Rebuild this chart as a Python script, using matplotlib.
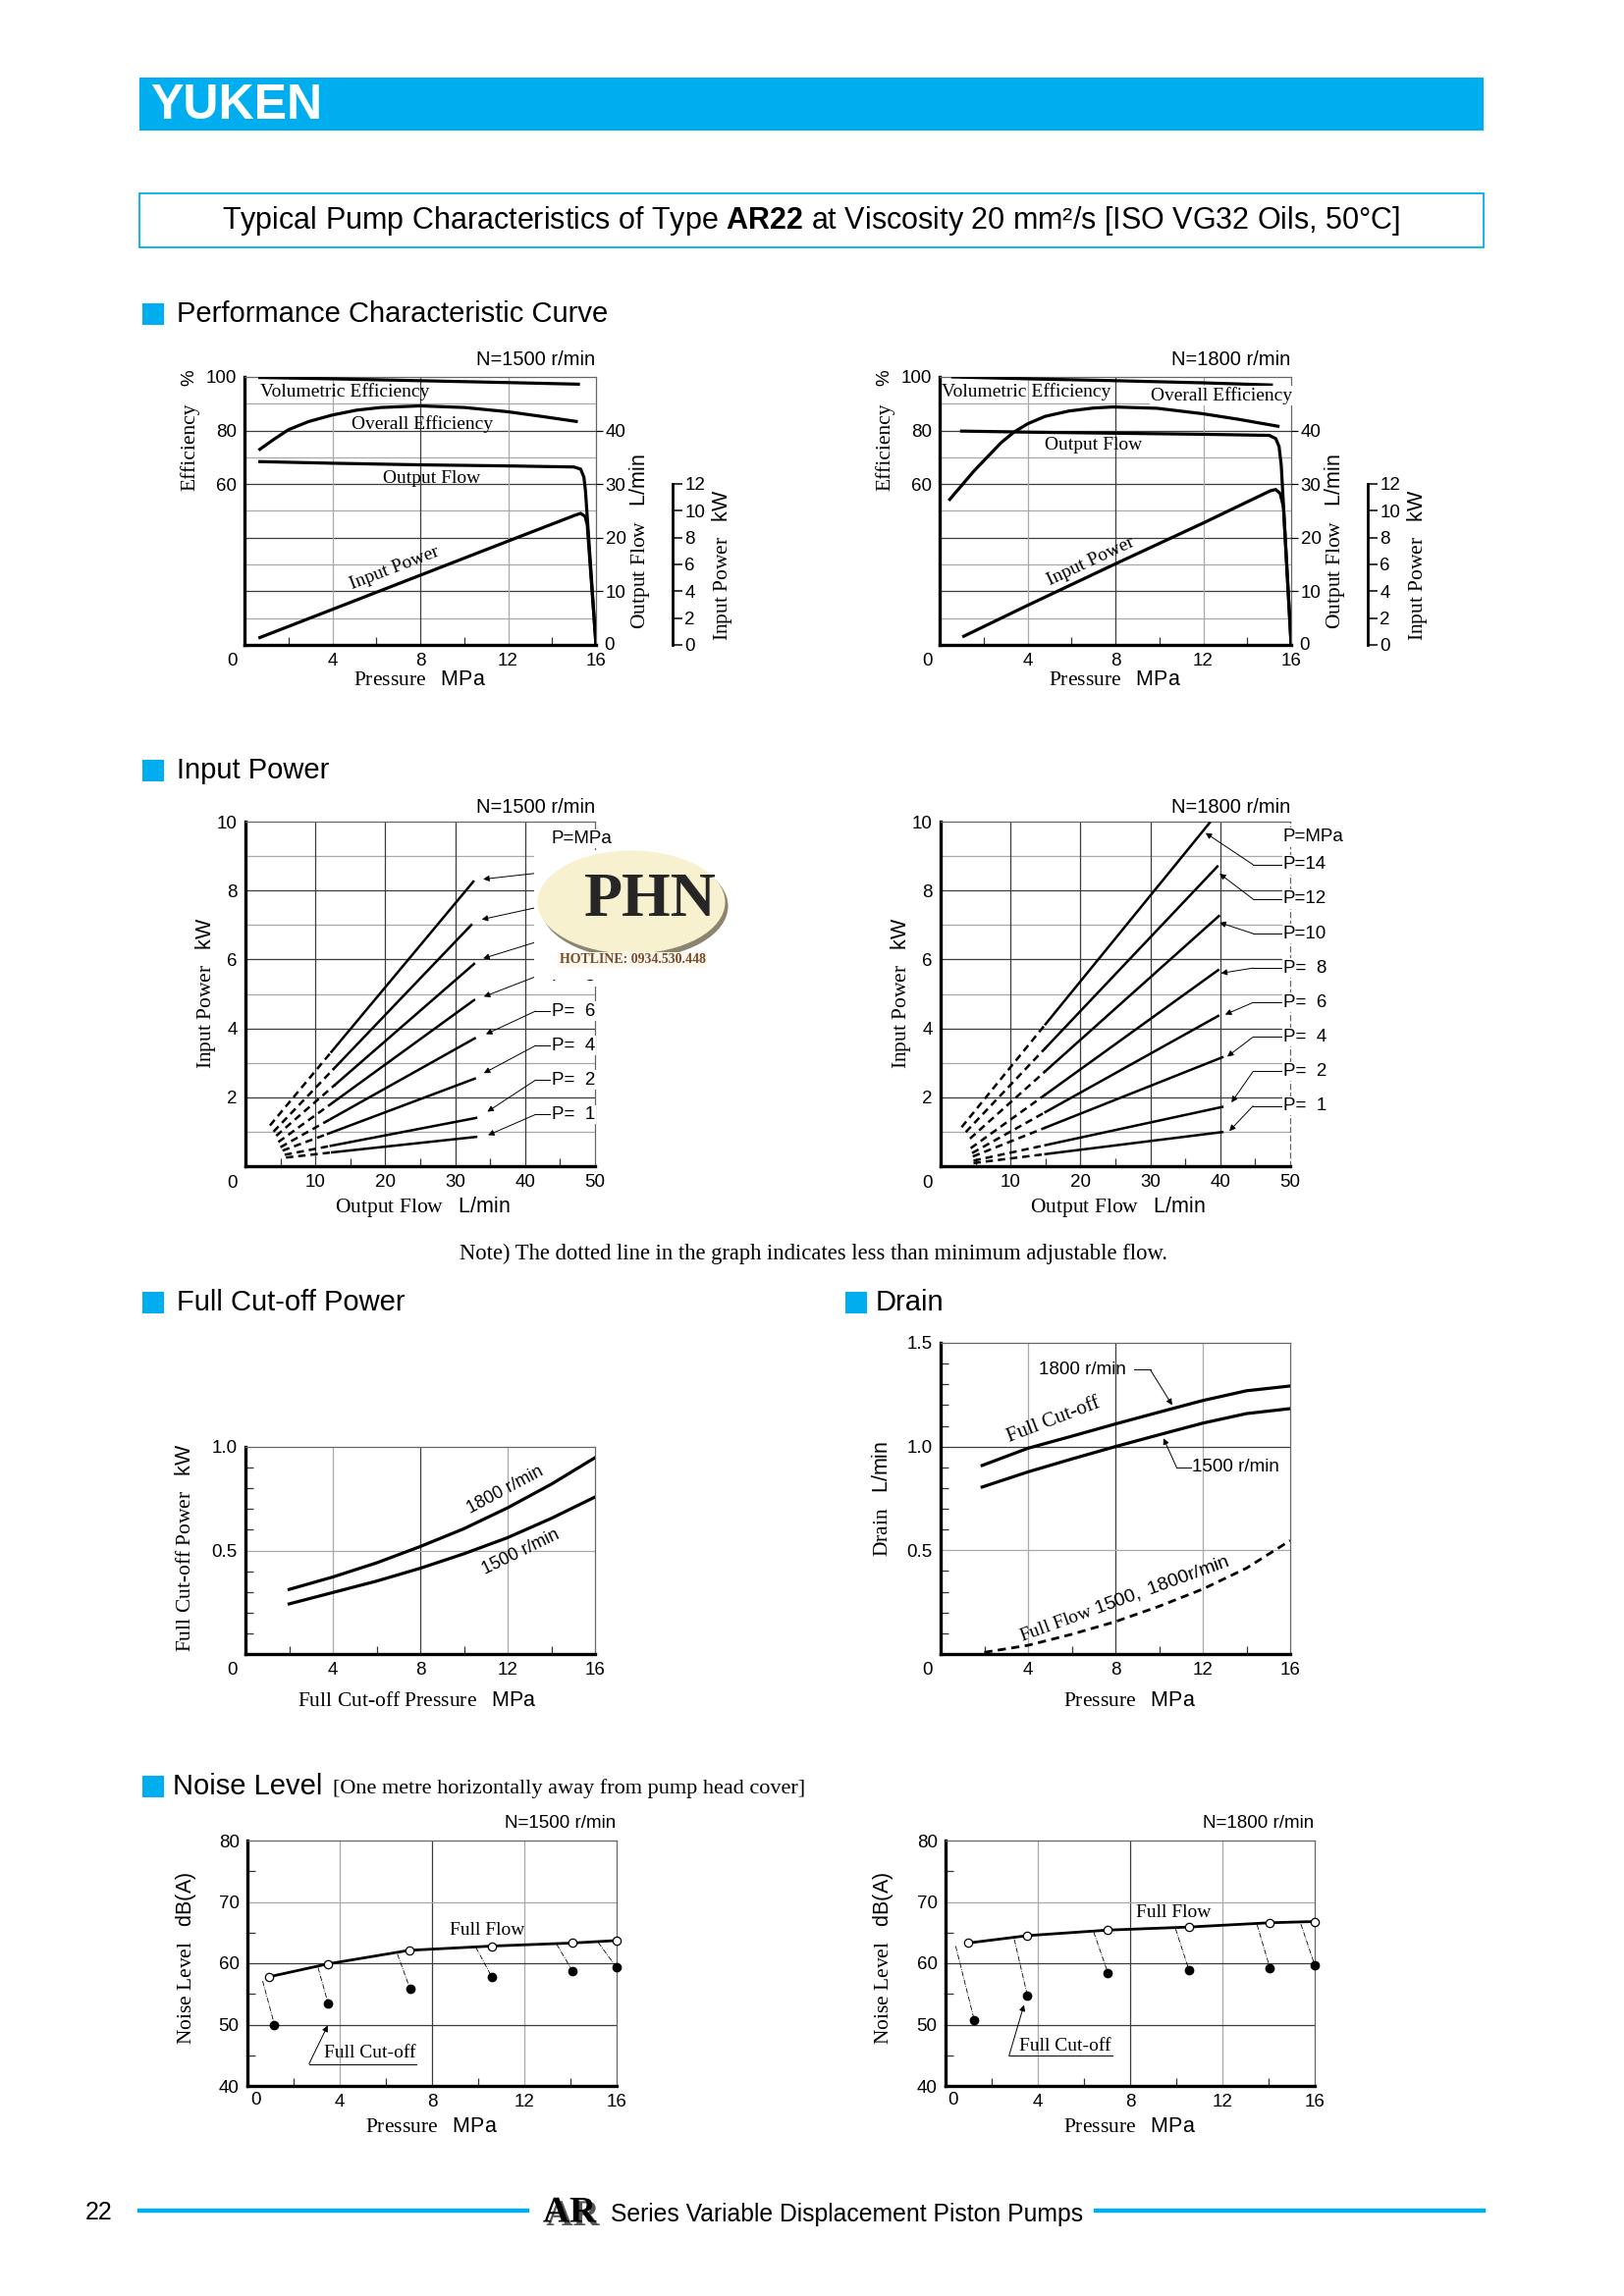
import matplotlib
matplotlib.use("Agg")
import matplotlib.pyplot as plt
import matplotlib.patheffects as pe
from matplotlib import font_manager
from matplotlib.lines import Line2D
from matplotlib.patches import Rectangle, Ellipse

W, H = 1654, 2339
BLUE = '#00AEEF'
DARK = '#3c3c3c'
LIGHT = '#a8a8a8'

installed = {f.name for f in font_manager.fontManager.ttflist}
SANS = 'Liberation Sans'
NARROW = 'Liberation Sans Narrow' if 'Liberation Sans Narrow' in installed else SANS
SERIF = 'Liberation Serif'

plt.rcParams['font.family'] = SANS
plt.rcParams['mathtext.fontset'] = 'custom'
plt.rcParams['mathtext.rm'] = SANS
plt.rcParams['mathtext.bf'] = SANS + ':bold'
plt.rcParams['mathtext.it'] = SANS + ':italic'

# ---------------- data ----------------
# Performance characteristic, N=1500 r/min (x: pressure MPa)
p15_vol_p = [0.7, 4, 8, 12, 15.2]
p15_vol = [99.8, 99.3, 98.6, 97.9, 97.3]
p15_ovr_p = [0.7, 1.3, 2.0, 2.9, 4.0, 5.1, 6.2, 8.0, 10.0, 12.0, 13.5, 15.1]
p15_ovr = [73.0, 76.5, 80.3, 83.3, 85.8, 87.6, 88.6, 89.2, 88.6, 87.0, 85.3, 83.4]
p15_flow_p = [0.7, 4, 8, 12, 15.0, 15.3, 15.45, 15.52, 16.0]
p15_flow = [34.2, 33.9, 33.6, 33.4, 33.2, 32.8, 31.3, 28.8, 0.0]      # L/min
p15_pow_p = [0.7, 4, 8, 12, 15.0, 15.3, 15.5, 15.6, 16.0]
p15_pow = [0.55, 2.65, 5.2, 7.75, 9.65, 9.82, 9.6, 9.0, 0.0]          # kW

# Performance characteristic, N=1800 r/min
p18_vol_p = [0.6, 4, 8, 12, 15.1]
p18_vol = [100.0, 99.3, 98.6, 97.8, 97.0]
p18_ovr_p = [0.46, 1.0, 1.55, 2.1, 2.8, 3.4, 4.0, 4.8, 5.9, 7.0, 7.9, 9.9, 11.95, 13.6, 15.4]
p18_ovr = [54.3, 59.5, 64.8, 69.5, 75.5, 79.5, 82.5, 85.3, 87.3, 88.4, 88.8, 88.3, 86.3, 84.2, 81.6]
p18_flow_p = [1.0, 4, 8, 12, 15.0, 15.3, 15.45, 15.55, 16.0]
p18_flow = [39.9, 39.7, 39.5, 39.3, 39.1, 38.5, 37.0, 33.5, 0.0]
p18_pow_p = [1.1, 4, 8, 12, 15.05, 15.3, 15.5, 15.65, 16.0]
p18_pow = [0.65, 2.95, 6.05, 9.1, 11.5, 11.6, 11.3, 10.3, 0.0]

# Input power vs output flow, one line per pressure
press = [14, 12, 10, 8, 6, 4, 2, 1]
ip15_q_start = [3.5, 4.0, 4.4, 4.7, 5.0, 5.3, 5.6, 5.8]
ip15_kw_start = [1.18, 1.00, 0.88, 0.70, 0.55, 0.45, 0.33, 0.25]
ip15_q_min = [12.3, 12.6, 12.8, 12.6, 12.2, 11.8, 12.2, 12.4]
ip15_kw_min = [3.32, 2.82, 2.36, 1.86, 1.37, 0.94, 0.59, 0.40]
ip15_q_end = [32.6, 32.3, 32.7, 32.7, 32.8, 32.8, 33.0, 33.0]
ip15_kw_end = [8.26, 7.00, 5.87, 4.82, 3.71, 2.54, 1.40, 0.85]
ip15_lab_kw = [8.5, 7.5, 6.5, 5.5, 4.5, 3.5, 2.5, 1.5]
ip15_tip_q = [34.0, 33.8, 34.0, 34.1, 34.4, 34.1, 34.6, 34.7]
ip15_tip_kw = [8.33, 7.16, 6.03, 4.92, 3.83, 2.70, 1.58, 0.90]

ip18_q_start = [3.0, 3.6, 4.2, 4.3, 4.5, 4.6, 4.7, 4.7]
ip18_kw_start = [1.13, 0.99, 0.80, 0.52, 0.38, 0.28, 0.16, 0.09]
ip18_q_min = [15.0, 15.0, 15.0, 15.0, 15.0, 15.0, 15.0, 15.0]
ip18_kw_min = [4.12, 3.43, 2.76, 2.08, 1.57, 1.12, 0.61, 0.35]
ip18_q_end = [38.5, 39.6, 39.8, 39.7, 39.7, 40.3, 40.3, 40.3]
ip18_kw_end = [9.97, 8.70, 7.26, 5.69, 4.36, 3.16, 1.72, 0.99]
ip18_lab_kw = [8.75, 7.75, 6.75, 5.75, 4.75, 3.75, 2.75, 1.75]
ip18_tip_q = [37.9, 39.9, 39.9, 40.1, 40.7, 41.0, 41.6, 41.3]
ip18_tip_kw = [9.67, 8.49, 7.07, 5.60, 4.40, 3.18, 1.85, 1.02]

# Full cut-off power (kW) vs full cut-off pressure
co_p = [2.0, 4, 6, 8, 10, 12, 14, 16]
co_1800 = [0.312, 0.372, 0.44, 0.519, 0.605, 0.706, 0.82, 0.948]
co_1500 = [0.242, 0.297, 0.352, 0.414, 0.484, 0.562, 0.655, 0.758]

# Drain (L/min) vs pressure
dr_p = [1.9, 4, 6, 8, 10, 12, 14, 16]
dr_1800 = [0.909, 0.992, 1.05, 1.109, 1.166, 1.222, 1.269, 1.292]
dr_1500 = [0.805, 0.878, 0.94, 1.0, 1.057, 1.113, 1.159, 1.183]
dr_ff_p = [2.0, 4, 6, 8, 10, 12, 14, 16]
dr_ff = [0.008, 0.042, 0.095, 0.156, 0.23, 0.313, 0.414, 0.547]

# Noise level dB(A)
n15_ff_p = [0.95, 3.5, 7.0, 10.6, 14.1, 16.0]
n15_ff = [57.8, 59.9, 62.1, 62.8, 63.3, 63.7]
n15_co_p = [1.17, 3.5, 7.05, 10.6, 14.1, 16.0]
n15_co = [50.0, 53.4, 55.8, 57.7, 58.65, 59.3]
n15_lead_p = [0.66, 3.06, 6.5, 9.9, 13.4, 15.2]
n15_lead = [57.1, 59.3, 61.5, 62.6, 63.1, 63.4]

n18_ff_p = [0.99, 3.55, 7.02, 10.55, 14.06, 16.0]
n18_ff = [63.3, 64.5, 65.4, 65.9, 66.6, 66.8]
n18_co_p = [1.24, 3.55, 7.04, 10.55, 14.06, 16.0]
n18_co = [50.8, 54.7, 58.4, 58.9, 59.2, 59.7]
n18_lead_p = [0.44, 2.98, 6.42, 9.97, 13.5, 15.4]
n18_lead = [62.8, 63.9, 65.1, 65.6, 66.3, 66.4]

# ---------------- helpers ----------------
fig = plt.figure(figsize=(W / 100, H / 100), dpi=100)


def rect(x0, y0, x1, y1):
    return [x0 / W, 1 - y1 / H, (x1 - x0) / W, (y1 - y0) / H]


def ftext(x, y, s, **kw):
    kw.setdefault('ha', 'center')
    kw.setdefault('va', 'center')
    return fig.text(x / W, 1 - y / H, s, **kw)


def unit_label(x, y, words, unit, rot=0, size=15.5):
    # serif words + sans unit, as on the sheet
    return ftext(x, y, words + '   ' + r'$\mathrm{' + unit + '}$',
                 family=SERIF, fontsize=size, rotation=rot)


def section(x_sq, y, title, x_txt=None, sub=None):
    fig.add_artist(Rectangle((x_sq / W, 1 - (y + 11) / H), 22 / W, 22 / H,
                             transform=fig.transFigure, color=BLUE, lw=0))
    x_txt = x_sq + 35 if x_txt is None else x_txt
    t = ftext(x_txt, y, title, ha='left', fontsize=21)
    if sub:
        ftext(339, y + 2, sub, ha='left', family=SERIF, fontsize=16)
    return t


def style(ax, xlim, ylim):
    ax.set_xlim(*xlim)
    ax.set_ylim(*ylim)
    for s in ['left', 'bottom']:
        ax.spines[s].set_linewidth(2.4)
        ax.spines[s].set_color('k')
    for s in ['top', 'right']:
        ax.spines[s].set_linewidth(0.9)
        ax.spines[s].set_color('#666666')
    ax.tick_params(which='major', length=0, labelsize=13.5, pad=6)
    ax.tick_params(which='minor', direction='in', length=6, width=0.9, color='#333333')
    ax.patch.set_alpha(0)


def grid_h(ax, vals, dark_vals):
    lo, hi = ax.get_xlim()
    for v in vals:
        ax.plot([lo, hi], [v, v], color=DARK if v in dark_vals else LIGHT, lw=0.9, zorder=0.5)


def grid_v(ax, vals, dark_vals):
    for v in vals:
        ax.axvline(v, color=DARK if v in dark_vals else LIGHT, lw=0.9, zorder=0.5)


def arrow(ax, tip, start):
    ax.annotate('', xy=tip, xytext=start,
                arrowprops=dict(arrowstyle='-|>', color='k', lw=0.7, mutation_scale=9,
                                shrinkA=0, shrinkB=0), zorder=3)


# ---------------- header ----------------
fig.add_artist(Rectangle((142 / W, 1 - 133 / H), 1369 / W, 54 / H,
                         transform=fig.transFigure, color=BLUE, lw=0))
ftext(153, 108, 'YUKEN', ha='left', color='white', fontsize=36,
      fontweight='bold', family=NARROW)
fig.add_artist(Rectangle((142 / W, 1 - 252 / H), 1369 / W, 55 / H, fill=False,
                         transform=fig.transFigure, edgecolor=BLUE, lw=1.3))
ftext(826, 225, r'Typical Pump Characteristics of Type $\mathbf{AR22}$ at Viscosity 20 mm²/s [ISO VG32 Oils, 50°C]',
      fontsize=22)

# ---------------- performance characteristic curve ----------------
section(145, 320, 'Performance Characteristic Curve')


def perf_chart(x0, speed, vol_p, vol, ovr_p, ovr, flow_p, flow, pow_p, pw, txt, grid90_end):
    ax = fig.add_axes(rect(x0, 384, x0 + 358, 657))
    style(ax, (0, 16), (0, 100))
    for v in range(10, 100, 10):
        ax.plot([0, grid90_end if v == 90 else 16], [v, v],
                color=DARK if v % 20 == 0 else LIGHT, lw=0.9, zorder=0.5)
    grid_v(ax, [4, 8, 12], [8])
    ax.set_xticks([4, 8, 12, 16])
    ax.set_xticks([2, 6, 10, 14], minor=True)
    ax.set_yticks([60, 80, 100])
    ax.plot(vol_p, vol, color='k', lw=2.3, zorder=3)
    ax.plot(ovr_p, ovr, color='k', lw=2.3, zorder=3)

    axf = ax.twinx()
    axf.set_ylim(0, 50)
    axf.plot(flow_p, flow, color='k', lw=2.3, zorder=3)
    axf.set_yticks([10, 20, 30, 40])
    axf.tick_params(axis='y', direction='out', length=5, width=0.9, labelsize=13.5, pad=2)
    for s in axf.spines.values():
        s.set_visible(False)

    axp = ax.twinx()
    axp.set_ylim(0, 20)
    axp.axis('off')
    axp.plot(pow_p, pw, color='k', lw=2.3, zorder=3)

    axs = fig.add_axes(rect(x0 + 435, 493, x0 + 436, 657))
    axs.set_ylim(0, 12)
    axs.set_xticks([])
    axs.yaxis.tick_right()
    axs.set_yticks(range(0, 13, 2))
    for s in ['left', 'top', 'bottom']:
        axs.spines[s].set_visible(False)
    axs.spines['right'].set_linewidth(2.0)
    axs.tick_params(axis='y', direction='out', length=7, width=1.1, labelsize=13.5, pad=2)
    axs.patch.set_alpha(0)

    (vx, vy), (ox, oy, oha), (fx, fy), (ix, iy, irot) = txt
    ax.text(vx, vy, 'Volumetric Efficiency', family=SERIF, fontsize=14, ha='left', va='center')
    ax.text(ox, oy, 'Overall Efficiency', family=SERIF, fontsize=14, ha=oha, va='baseline',
            bbox=dict(fc='white', ec='none', pad=0.5) if oha == 'left' else None)
    ax.text(fx, fy, 'Output Flow', family=SERIF, fontsize=14, ha='center', va='baseline')
    ax.text(ix, iy, 'Input Power', family=SERIF, fontsize=14, ha='center', va='center',
            rotation=irot, rotation_mode='anchor')

    ftext(x0 + 357, 366, f'N={speed} r/min', ha='right', fontsize=14.5)
    ftext(x0 - 13, 674, '0', fontsize=13.5)
    ftext(x0 + 372, 658, '0', fontsize=13.5)
    ftext(x0 - 56, 385, r'$\%$', rotation=90, fontsize=13.5)
    ftext(x0 - 56, 455, 'Efficiency', family=SERIF, fontsize=15.5, rotation=90)
    unit_label(x0 + 179, 694, 'Pressure', 'MPa')
    unit_label(x0 + 403, 552, 'Output Flow', 'L/min', rot=90)
    unit_label(x0 + 486, 576, 'Input Power', 'kW', rot=90)


perf_chart(249, '1500', p15_vol_p, p15_vol, p15_ovr_p, p15_ovr, p15_flow_p, p15_flow,
           p15_pow_p, p15_pow,
           [(0.7, 94.5), (8.1, 80.6, 'center'), (8.5, 60.6), (6.85, 28.5, 21)], 16)
perf_chart(957, '1800', p18_vol_p, p18_vol, p18_ovr_p, p18_ovr, p18_flow_p, p18_flow,
           p18_pow_p, p18_pow,
           [(0.1, 94.3), (9.6, 91.2, 'left'), (7.0, 73.0), (6.9, 31.0, 25)], 9.6)

# ---------------- input power ----------------
section(145, 785, 'Input Power')


def input_chart(x0, speed, q_s, k_s, q_m, k_m, q_e, k_e, lab_q, lab_kw, mpa_kw,
                elbow_q, tip_q, tip_kw, dashed_edge, covered=()):
    ax = fig.add_axes(rect(x0, 837, x0 + 356, 1188))
    style(ax, (0, 50), (0, 10))
    if dashed_edge:
        ax.spines['right'].set_linestyle((0, (4, 3)))
    grid_h(ax, range(1, 10), [2, 4, 6, 8])
    grid_v(ax, [10, 20, 30, 40], [10, 20, 30, 40])
    ax.set_xticks([10, 20, 30, 40, 50])
    ax.set_xticks([5, 15, 25, 35, 45], minor=True)
    ax.set_yticks([2, 4, 6, 8, 10])
    for i, p in enumerate(press):
        ax.plot([q_s[i], q_m[i]], [k_s[i], k_m[i]], color='k', lw=1.8,
                ls=(0, (3, 2)), zorder=3)
        ax.plot([q_m[i], q_e[i]], [k_m[i], k_e[i]], color='k', lw=1.8, zorder=3)
        if p not in covered:   # labels lying under the watermark are not visible on the sheet
            ax.text(lab_q, lab_kw[i], f'P={p:2d}'.replace(' ', '  '), fontsize=13.5,
                    ha='left', va='center', bbox=dict(fc='white', ec='none', pad=1), zorder=4)
        ax.plot([lab_q - 0.1, elbow_q], [lab_kw[i]] * 2, color='k', lw=0.7, zorder=3)
        arrow(ax, (tip_q[i], tip_kw[i]), (elbow_q, lab_kw[i]))
    ax.text(lab_q, mpa_kw, 'P=MPa', fontsize=13.5, ha='left', va='center',
            bbox=dict(fc='white', ec='none', pad=1), zorder=4)
    ftext(x0 + 356, 822, f'N={speed} r/min', ha='right', fontsize=14.5)
    ftext(x0 - 14, 1205, '0', fontsize=13.5)
    unit_label(x0 - 41, 1012, 'Input Power', 'kW', rot=90)
    unit_label(x0 + 180, 1229, 'Output Flow', 'L/min')


input_chart(250, '1500', ip15_q_start, ip15_kw_start, ip15_q_min, ip15_kw_min,
            ip15_q_end, ip15_kw_end, 43.8, ip15_lab_kw, 9.5, 41.5,
            ip15_tip_q, ip15_tip_kw, False, covered=(14, 12, 10))
input_chart(958, '1800', ip18_q_start, ip18_kw_start, ip18_q_min, ip18_kw_min,
            ip18_q_end, ip18_kw_end, 49.0, ip18_lab_kw, 9.55, 44.7,
            ip18_tip_q, ip18_tip_kw, True)

ftext(828, 1277, 'Note) The dotted line in the graph indicates less than minimum adjustable flow.',
      family=SERIF, fontsize=16.3)

# watermark over the 1500 r/min labels
fig.add_artist(Rectangle((544 / W, 1 - 998 / H), 201 / W, 132 / H,
                         transform=fig.transFigure, color='white', lw=0, zorder=5))
fig.add_artist(Ellipse((646 / W, 1 - 923 / H), 191 / W, 107 / H,
                       transform=fig.transFigure, color='#8d8470', lw=0, zorder=6))
fig.add_artist(Ellipse((643 / W, 1 - 919 / H), 191 / W, 105 / H,
                       transform=fig.transFigure, color='#f8f1cf', lw=0, zorder=6))
ftext(662, 918, 'PHN', family=SERIF, fontweight='bold', fontsize=46, color='#262626', zorder=7)
ftext(644, 978, 'HOTLINE: 0934.530.448', family=SERIF, fontweight='bold', fontsize=10,
      color='#7a4a2a', zorder=7, bbox=dict(fc='#fbf8ee', ec='none', pad=1))

# ---------------- full cut-off power ----------------
section(145, 1327, 'Full Cut-off Power')
ax = fig.add_axes(rect(250, 1474, 606, 1685))
style(ax, (0, 16), (0, 1.0))
grid_v(ax, [4, 8, 12], [8])
grid_h(ax, [0.5], [])
ax.set_xticks([4, 8, 12, 16])
ax.set_xticks([2, 6, 10, 14], minor=True)
ax.set_yticks([0.5, 1.0])
ax.set_yticklabels(['0.5', '1.0'])
ax.set_yticks([0.1, 0.2, 0.3, 0.4, 0.6, 0.7, 0.8, 0.9], minor=True)
ax.plot(co_p, co_1800, color='k', lw=2.3, zorder=3)
ax.plot(co_p, co_1500, color='k', lw=2.3, zorder=3)
ax.text(11.9, 0.79, '1800 r/min', fontsize=13, rotation=28, rotation_mode='anchor',
        ha='center', va='center')
ax.text(12.6, 0.49, '1500 r/min', fontsize=13, rotation=26, rotation_mode='anchor',
        ha='center', va='center')
ftext(236, 1702, '0', fontsize=13.5)
unit_label(189, 1577, 'Full Cut-off Power', 'kW', rot=90)
unit_label(425, 1733, 'Full Cut-off Pressure', 'MPa')

# ---------------- drain ----------------
section(861, 1327, 'Drain', x_txt=892)
ax = fig.add_axes(rect(958, 1368, 1314, 1685))
style(ax, (0, 16), (0, 1.5))
grid_v(ax, [4, 8, 12], [8])
grid_h(ax, [0.5, 1.0], [1.0])
ax.set_xticks([4, 8, 12, 16])
ax.set_xticks([2, 6, 10, 14], minor=True)
ax.set_yticks([0.5, 1.0, 1.5])
ax.set_yticks([0.1, 0.2, 0.3, 0.4, 0.6, 0.7, 0.8, 0.9, 1.1, 1.2, 1.3, 1.4], minor=True)
ax.plot(dr_p, dr_1800, color='k', lw=2.3, zorder=3)
ax.plot(dr_p, dr_1500, color='k', lw=2.3, zorder=3)
ax.plot(dr_ff_p, dr_ff, color='k', lw=2.0, ls=(0, (3, 2)), zorder=3)
ax.text(5.15, 1.125, 'Full Cut-off', family=SERIF, fontsize=15, rotation=21,
        rotation_mode='anchor', ha='center', va='center')
ax.text(8.4, 0.27, r'Full Flow $\mathrm{1500,\ 1800r/min}$', family=SERIF, fontsize=14,
        rotation=20, rotation_mode='anchor', ha='center', va='center')
ax.text(4.5, 1.37, '1800 r/min', fontsize=13.5, ha='left', va='center')
ax.plot([8.85, 9.6], [1.37, 1.37], color='k', lw=0.7)
arrow(ax, (10.6, 1.20), (9.6, 1.37))
ax.text(11.5, 0.90, '1500 r/min', fontsize=13.5, ha='left', va='center')
ax.plot([11.45, 10.8], [0.90, 0.90], color='k', lw=0.7)
arrow(ax, (10.2, 1.04), (10.8, 0.90))
ftext(944, 1702, '0', fontsize=13.5)
unit_label(899, 1527, 'Drain', 'L/min', rot=90)
unit_label(1151, 1733, 'Pressure', 'MPa')

# ---------------- noise level ----------------
section(145, 1820, 'Noise Level', x_txt=176,
        sub='[One metre horizontally away from pump head cover]')


def noise_chart(x0, speed, ff_p, ff, co_p_, co, lead_p, lead, ffl, cut_txt, cut_line, cut_tip):
    ax = fig.add_axes(rect(x0, 1875, x0 + 376, 2125))
    style(ax, (0, 16), (40, 80))
    grid_v(ax, [4, 8, 12], [8])
    grid_h(ax, [50, 60, 70], [50, 60])
    ax.set_xticks([4, 8, 12, 16])
    ax.set_xticks([2, 6, 10, 14], minor=True)
    ax.set_yticks([40, 50, 60, 70, 80])
    ax.set_yticks([45, 55, 65, 75], minor=True)
    ax.plot(ff_p, ff, color='k', lw=2.0, zorder=3)
    for i in range(len(co)):
        ax.plot([lead_p[i], co_p_[i]], [lead[i], co[i]], color='k', lw=0.6,
                ls='-.', zorder=2)
    ax.plot(ff_p, ff, ls='none', marker='o', ms=6, mfc='white', mec='k', mew=0.9,
            zorder=4, clip_on=False)
    ax.plot(co_p_, co, ls='none', marker='o', ms=6, mfc='k', mec='k', zorder=4,
            clip_on=False)
    ax.text(ffl[0], ffl[1], 'Full Flow', family=SERIF, fontsize=14, ha='left', va='center')
    ax.text(cut_txt[0], cut_txt[1], 'Full Cut-off', family=SERIF, fontsize=14,
            ha='left', va='center')
    ax.plot([cut_line[0], cut_line[1]], [cut_line[2]] * 2, color='k', lw=0.7)
    arrow(ax, cut_tip, (cut_line[0], cut_line[2]))
    ftext(x0 + 375, 1857, f'N={speed} r/min', ha='right', fontsize=13.5)
    ftext(x0 + 8, 2140, '0', fontsize=13.5)
    unit_label(x0 - 63, 1995, 'Noise Level', 'dB(A)', rot=90)
    unit_label(x0 + 188, 2167, 'Pressure', 'MPa')


noise_chart(252, '1500', n15_ff_p, n15_ff, n15_co_p, n15_co, n15_lead_p, n15_lead,
            (8.75, 65.3), (3.3, 45.3), (2.67, 7.33, 43.6), (3.48, 49.85))
noise_chart(963, '1800', n18_ff_p, n18_ff, n18_co_p, n18_co, n18_lead_p, n18_lead,
            (8.25, 68.2), (3.2, 46.5), (2.75, 7.23, 44.9), (3.40, 53.2))

# ---------------- footer ----------------
ftext(101, 2254, '22', fontsize=18)
fig.add_artist(Line2D([142 / W, 537 / W], [1 - 2252 / H] * 2, color=BLUE, lw=3.2,
                      transform=fig.transFigure))
fig.add_artist(Line2D([1116 / W, 1511 / W], [1 - 2252 / H] * 2, color=BLUE, lw=3.2,
                      transform=fig.transFigure))
ftext(580, 2254, 'AR', family=SERIF, fontweight='bold', fontsize=27, color='k',
      path_effects=[pe.withSimplePatchShadow(offset=(2.5, -2.5), shadow_rgbFace='#555555', alpha=1)])
ftext(622, 2256, 'Series Variable Displacement Piston Pumps', ha='left', fontsize=17.8)

fig.savefig('out.png', dpi=100)
